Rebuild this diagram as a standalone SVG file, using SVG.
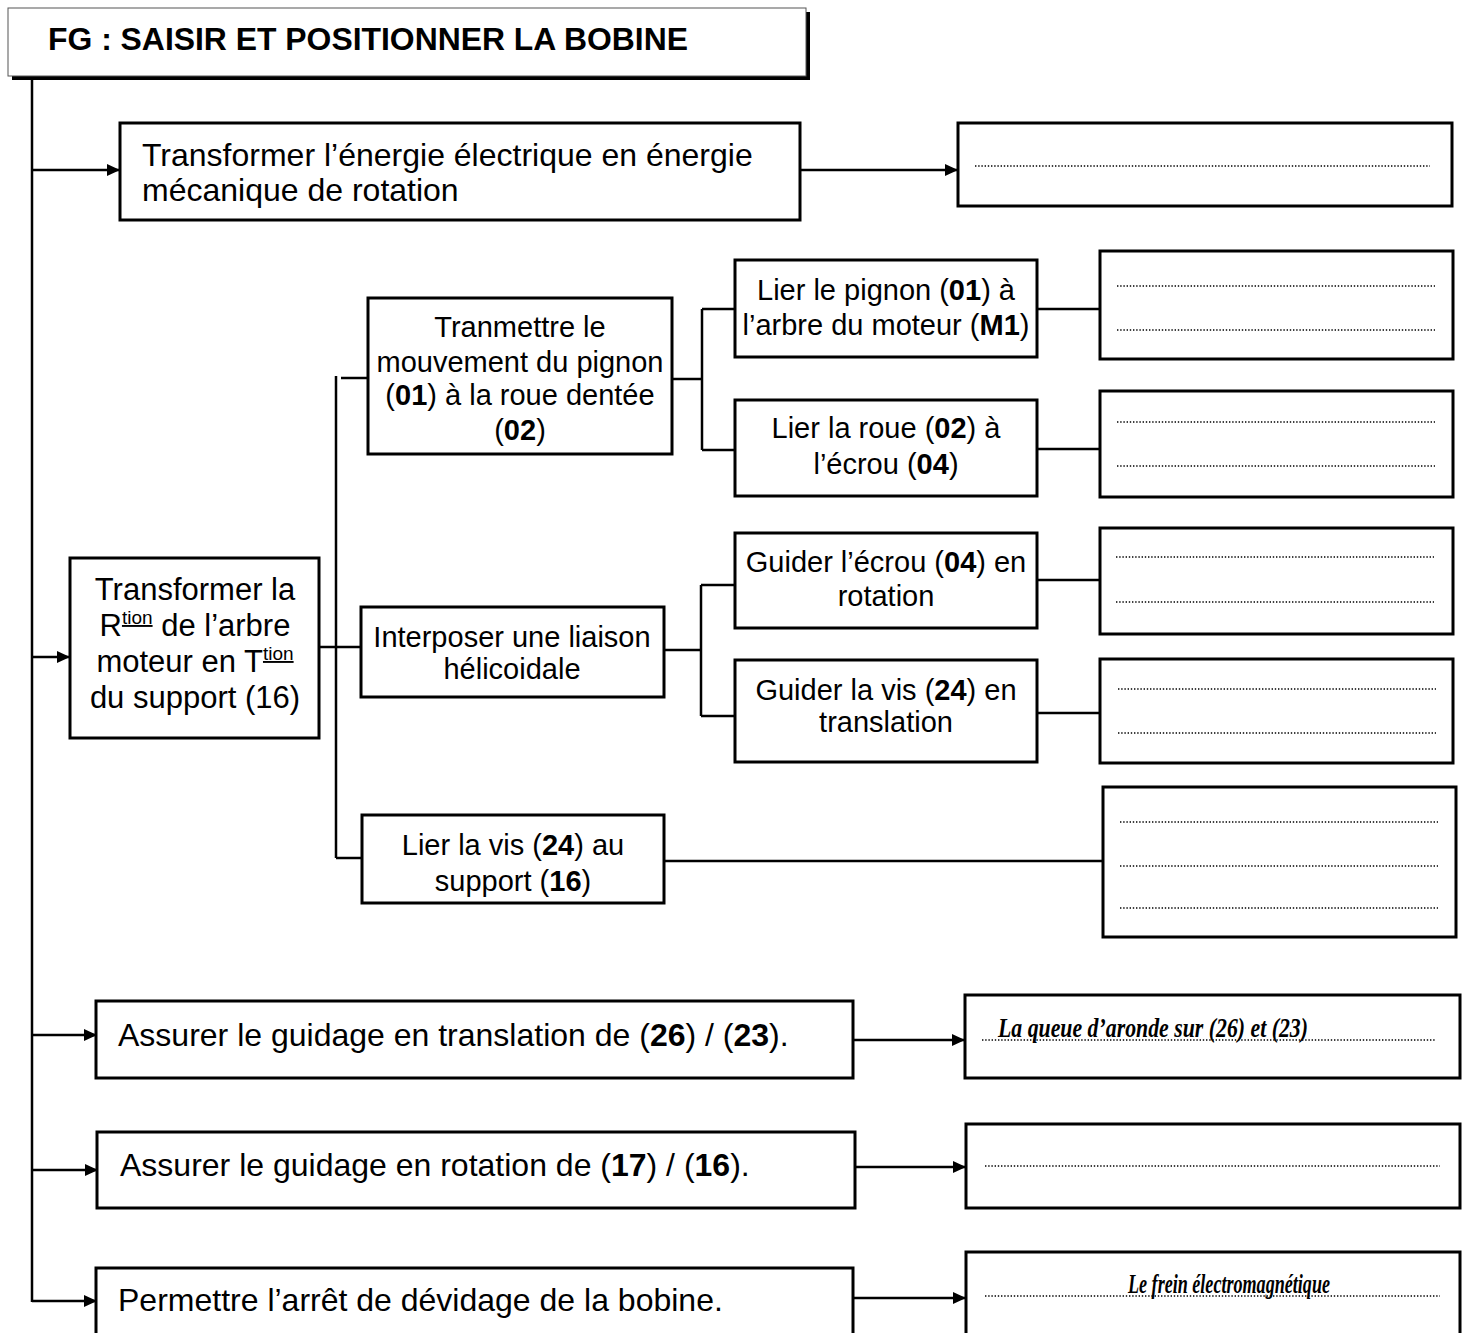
<svg xmlns="http://www.w3.org/2000/svg" width="1464" height="1333" viewBox="0 0 1464 1333">
<style>
.box{fill:#fff;stroke:#000;stroke-width:3}
.t{font-family:"Liberation Sans",Arial,sans-serif;fill:#000}
.m{font-size:32px}
.l{font-size:31px}
.s{font-size:29px}
.c{text-anchor:middle}
.b{font-weight:bold}
.dot{stroke:#000;stroke-width:1.6;stroke-dasharray:1.4 1.8}
.ln{stroke:#000;stroke-width:2.5;fill:none}
.hw{font-family:"Liberation Serif",serif;font-style:italic;font-weight:bold;font-size:28px;fill:#000}
.sup{font-size:19px;text-decoration:underline}
</style>
<defs>
<marker id="ah" markerWidth="13" markerHeight="12" refX="12" refY="6" orient="auto" markerUnits="userSpaceOnUse">
<path d="M0,0 L13,6 L0,12 Z" fill="#000"/>
</marker>
</defs>
<rect width="1464" height="1333" fill="#fff"/>

<g id="connectors">
<line class="ln" x1="32" y1="80" x2="32" y2="1302"/>
<line class="ln" x1="32" y1="170" x2="119" y2="170" marker-end="url(#ah)"/>
<line class="ln" x1="800" y1="170" x2="957" y2="170" marker-end="url(#ah)"/>
<line class="ln" x1="32" y1="657" x2="69" y2="657" marker-end="url(#ah)"/>
<line class="ln" x1="319" y1="647" x2="361" y2="647"/>
<line class="ln" x1="336" y1="376" x2="336" y2="858"/>
<line class="ln" x1="341" y1="378" x2="368" y2="378"/>
<line class="ln" x1="336" y1="858" x2="362" y2="858"/>
<line class="ln" x1="672" y1="379" x2="702" y2="379"/>
<line class="ln" x1="702" y1="309" x2="702" y2="450"/>
<line class="ln" x1="702" y1="309" x2="735" y2="309"/>
<line class="ln" x1="702" y1="450" x2="735" y2="450"/>
<line class="ln" x1="1037" y1="309" x2="1100" y2="309"/>
<line class="ln" x1="1037" y1="449" x2="1100" y2="449"/>
<line class="ln" x1="664" y1="650" x2="701" y2="650"/>
<line class="ln" x1="701" y1="585" x2="701" y2="716"/>
<line class="ln" x1="701" y1="585" x2="735" y2="585"/>
<line class="ln" x1="701" y1="716" x2="735" y2="716"/>
<line class="ln" x1="1037" y1="580" x2="1100" y2="580"/>
<line class="ln" x1="1037" y1="713" x2="1100" y2="713"/>
<line class="ln" x1="664" y1="861" x2="1103" y2="861"/>
<line class="ln" x1="32" y1="1035" x2="96" y2="1035" marker-end="url(#ah)"/>
<line class="ln" x1="853" y1="1040" x2="964" y2="1040" marker-end="url(#ah)"/>
<line class="ln" x1="32" y1="1170" x2="97" y2="1170" marker-end="url(#ah)"/>
<line class="ln" x1="855" y1="1167" x2="965" y2="1167" marker-end="url(#ah)"/>
<line class="ln" x1="32" y1="1301" x2="96" y2="1301" marker-end="url(#ah)"/>
<line class="ln" x1="853" y1="1298" x2="965" y2="1298" marker-end="url(#ah)"/>
</g>

<g id="title">
<rect x="12" y="12" width="798" height="68" fill="#000"/>
<rect x="8" y="8" width="798" height="68" fill="#fff" stroke="#555" stroke-width="1"/>
<text class="t b" x="48" y="50" font-size="31" textLength="640" lengthAdjust="spacingAndGlyphs">FG : SAISIR ET POSITIONNER LA BOBINE</text>
</g>

<g id="n-energie">
<rect class="box" x="120" y="123" width="680" height="97"/>
<text class="t m" x="142" y="166">Transformer l’énergie électrique en énergie</text>
<text class="t m" x="142" y="201">mécanique de rotation</text>
</g>
<g id="a-energie">
<rect class="box" x="958" y="123" width="494" height="83"/>
<line class="dot" x1="975" y1="166" x2="1430" y2="166"/>
</g>

<g id="n-transformer">
<rect class="box" x="70" y="558" width="249" height="180"/>
<text class="t l c" x="195" y="600">Transformer la</text>
<text class="t l c" x="195" y="636">R<tspan class="sup" dy="-12">tion</tspan><tspan dy="12"> de l’arbre</tspan></text>
<text class="t l c" x="195" y="672">moteur en T<tspan class="sup" dy="-12">tion</tspan></text>
<text class="t l c" x="195" y="708">du support (16)</text>
</g>

<g id="n-transmettre">
<rect class="box" x="368" y="298" width="304" height="156"/>
<text class="t s c" x="520" y="337">Tranmettre le</text>
<text class="t s c" x="520" y="372">mouvement du pignon</text>
<text class="t s c" x="520" y="405">(<tspan class="b">01</tspan>) à la roue dentée</text>
<text class="t s c" x="520" y="440">(<tspan class="b">02</tspan>)</text>
</g>

<g id="n-pignon">
<rect class="box" x="735" y="260" width="302" height="97"/>
<text class="t s c" x="886" y="300">Lier le pignon (<tspan class="b">01</tspan>) à</text>
<text class="t s c" x="886" y="335">l’arbre du moteur (<tspan class="b">M1</tspan>)</text>
</g>
<g id="a-pignon">
<rect class="box" x="1100" y="251" width="353" height="108"/>
<line class="dot" x1="1117" y1="286" x2="1435" y2="286"/>
<line class="dot" x1="1117" y1="330" x2="1435" y2="330"/>
</g>

<g id="n-roue">
<rect class="box" x="735" y="400" width="302" height="96"/>
<text class="t s c" x="886" y="438">Lier la roue (<tspan class="b">02</tspan>) à</text>
<text class="t s c" x="886" y="474">l’écrou (<tspan class="b">04</tspan>)</text>
</g>
<g id="a-roue">
<rect class="box" x="1100" y="391" width="353" height="106"/>
<line class="dot" x1="1117" y1="422" x2="1435" y2="422"/>
<line class="dot" x1="1117" y1="466" x2="1435" y2="466"/>
</g>

<g id="n-interposer">
<rect class="box" x="361" y="607" width="303" height="90"/>
<text class="t s c" x="512" y="647">Interposer une liaison</text>
<text class="t s c" x="512" y="679">hélicoidale</text>
</g>

<g id="n-ecrou">
<rect class="box" x="735" y="533" width="302" height="95"/>
<text class="t s c" x="886" y="572">Guider l’écrou (<tspan class="b">04</tspan>) en</text>
<text class="t s c" x="886" y="606">rotation</text>
</g>
<g id="a-ecrou">
<rect class="box" x="1100" y="528" width="353" height="106"/>
<line class="dot" x1="1116" y1="557" x2="1434" y2="557"/>
<line class="dot" x1="1116" y1="602" x2="1434" y2="602"/>
</g>

<g id="n-vis">
<rect class="box" x="735" y="660" width="302" height="102"/>
<text class="t s c" x="886" y="700">Guider la vis (<tspan class="b">24</tspan>) en</text>
<text class="t s c" x="886" y="732">translation</text>
</g>
<g id="a-vis">
<rect class="box" x="1100" y="659" width="353" height="104"/>
<line class="dot" x1="1118" y1="689" x2="1436" y2="689"/>
<line class="dot" x1="1118" y1="733" x2="1436" y2="733"/>
</g>

<g id="n-liervis">
<rect class="box" x="362" y="815" width="302" height="88"/>
<text class="t s c" x="513" y="855">Lier la vis (<tspan class="b">24</tspan>) au</text>
<text class="t s c" x="513" y="891">support (<tspan class="b">16</tspan>)</text>
</g>
<g id="a-liervis">
<rect class="box" x="1103" y="787" width="353" height="150"/>
<line class="dot" x1="1120" y1="822" x2="1438" y2="822"/>
<line class="dot" x1="1120" y1="866" x2="1438" y2="866"/>
<line class="dot" x1="1120" y1="908" x2="1438" y2="908"/>
</g>

<g id="n-translation">
<rect class="box" x="96" y="1001" width="757" height="77"/>
<text class="t m" x="118" y="1046">Assurer le guidage en translation de (<tspan class="b">26</tspan>) / (<tspan class="b">23</tspan>).</text>
</g>
<g id="a-translation">
<rect class="box" x="965" y="995" width="495" height="83"/>
<line class="dot" x1="982" y1="1040" x2="1436" y2="1040"/>
<text class="hw" x="998" y="1037" textLength="310" lengthAdjust="spacingAndGlyphs">La queue d’aronde sur (26) et (23)</text>
</g>

<g id="n-rotation">
<rect class="box" x="97" y="1132" width="758" height="76"/>
<text class="t m" x="120" y="1176">Assurer le guidage en rotation de (<tspan class="b">17</tspan>) / (<tspan class="b">16</tspan>).</text>
</g>
<g id="a-rotation">
<rect class="box" x="966" y="1124" width="494" height="84"/>
<line class="dot" x1="985" y1="1166" x2="1440" y2="1166"/>
</g>

<g id="n-arret">
<rect class="box" x="96" y="1268" width="757" height="80"/>
<text class="t m" x="118" y="1311">Permettre l’arrêt de dévidage de la bobine.</text>
</g>
<g id="a-arret">
<rect class="box" x="966" y="1252" width="494" height="96"/>
<line class="dot" x1="985" y1="1296" x2="1440" y2="1296"/>
<text class="hw" x="1128" y="1293" textLength="202" lengthAdjust="spacingAndGlyphs">Le frein électromagnétique</text>
</g>
</svg>
